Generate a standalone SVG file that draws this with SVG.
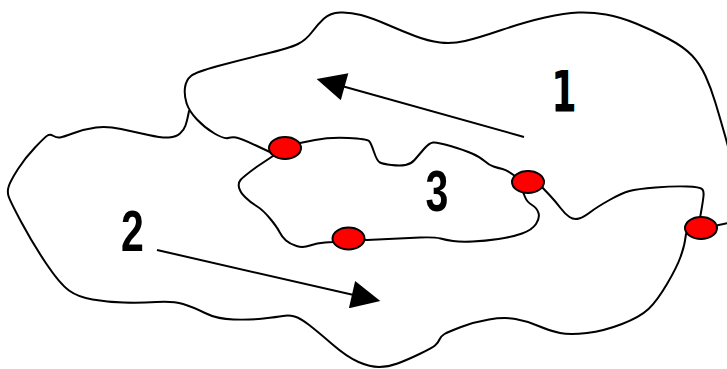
<svg xmlns="http://www.w3.org/2000/svg" width="727" height="369" viewBox="0 0 727 369">
  <style>
    .edge { fill: none; stroke: #000; stroke-width: 2; stroke-linejoin: round; stroke-linecap: round; }
    .arrow { fill: none; stroke: #000; stroke-width: 2; marker-end: url(#head); }
    .node { fill: #ff0000; stroke: #000; stroke-width: 2; }
    .label { font-family: "Liberation Sans", Arial, sans-serif; font-weight: bold; font-size: 57px; text-anchor: middle; fill: #000; }
    .label-footed { font-family: "DejaVu Sans", sans-serif; }
  </style>
  <defs>
    <marker id="head" markerUnits="userSpaceOnUse" markerWidth="30" markerHeight="28" viewBox="0 0 28 27" refX="18" refY="13.5" orient="auto">
      <path d="M0,0 L28,13.5 L0,27 Z" fill="#000"/>
    </marker>
  </defs>

  <g id="connectors">
    <!-- outer boundary, upper part -->
    <path class="edge" d="M272,153 L256,145.5 Q240,138 236,137.5 Q232,137 228,138 Q224,139 214.5,133.5 Q205,128 197,119.5 Q189,111 186.5,103 Q184,95 185,87.5 Q186,80 191,76 Q196,72 218,66 Q240,60 265,54 Q290,48 298,44 Q306,40 312,32 Q318,24 324,18.5 Q330,13 340,12.5 Q350,12 361,15 Q372,18 387,24.5 Q402,31 415,36 Q428,41 440,42.5 Q452,44 465,41 Q478,38 501.5,30 Q525,22 545,17.5 Q565,13 578.5,12.5 Q592,12 606,14.5 Q620,17 636,23.5 Q652,30 668,38.5 Q684,47 692,55.5 Q700,64 705.5,76 Q711,88 715.5,103 Q720,118 724,132 Q728,146 730,154"/>
    <!-- outer boundary, left and lower part -->
    <path class="edge" d="M189,111 L188,116 Q187,121 185.5,125.5 Q184,130 180,133.5 Q176,137 169,137.5 Q162,138 148.5,135 Q135,132 121,129 Q107,126 96,127.5 Q85,129 74,133 Q63,137 60,137.5 Q57,138 53.5,136 Q50,134 47.5,135.5 Q45,137 35,147.5 Q25,158 18,169 Q11,180 9,185.5 Q7,191 8.5,196 Q10,201 21.5,222.5 Q33,244 46.5,264 Q60,284 69,290.5 Q78,297 92.5,299.5 Q107,302 123.5,302.5 Q140,303 156.5,302 Q173,301 183,304 Q193,307 205,313 Q217,319 233.5,319.5 Q250,320 263.5,318.5 Q277,317 283,316 Q289,315 294.5,316.5 Q300,318 308.5,324.5 Q317,331 332,344 Q347,357 358.5,362 Q370,367 379,367 Q388,367 397.5,363.5 Q407,360 419.5,354 Q432,348 435,345.5 Q438,343 439.5,339.5 Q441,336 444.5,334 Q448,332 461,327 Q474,322 489,319.5 Q504,317 515.5,319 Q527,321 538.5,326 Q550,331 560,333 Q570,335 587,333 Q604,331 622,324 Q640,317 648.5,309 Q657,301 667,284 Q677,267 680.5,257 Q684,247 685,240.5 L686,234"/>
    <!-- dividing line between the two outer regions -->
    <path class="edge" d="M700,218 L701.5,209.5 Q703,201 703.5,196 Q704,191 702,189 Q700,187 687,186.5 Q674,186 655.5,187.5 Q637,189 629.5,191 Q622,193 609.5,200 Q597,207 590.5,212 Q584,217 579,218.5 Q574,220 569.5,217 Q565,214 560.5,208 Q556,202 549.5,195 L540,185"/>
    <path class="edge" d="M714,226 L728,223"/>
    <!-- inner loop -->
    <path class="edge" d="M286,146 L300,143 L315,140 Q330,137 348.5,138 Q367,139 369,141 Q371,143 374,152 Q377,161 380,162.5 Q383,164 391.5,165 Q400,166 405.5,165 Q411,164 414.5,160 Q418,156 423.5,149.5 Q429,143 433,142.5 Q437,142 450.5,146 Q464,150 472,153.5 Q480,157 484.5,161 Q489,165 493.5,166.5 Q498,168 502.5,169 Q507,170 515,176"/>
    <path class="edge" d="M526,185 L523,192 L525,197 Q527,202 532,205 Q537,208 538.5,213 Q540,218 536,224 Q532,230 522,233.5 Q512,237 498.5,239 Q485,241 472.5,241.5 Q460,242 453,241 Q446,240 440.5,238.5 Q435,237 420,237.5 L367,240 L350,239"/>
    <path class="edge" d="M348,239 L333,242 L325,242.5 Q317,243 310,245.5 Q303,248 296.5,246 Q290,244 286,240.5 Q282,237 279.5,232 Q277,227 270,218.5 Q263,210 256.5,206 Q250,202 245,197 Q240,192 239,187.5 Q238,183 240.5,180 Q243,177 256.5,167 L285,148"/>
    <!-- flow arrows -->
    <line class="arrow" x1="524" y1="137" x2="326.6" y2="81.7"/>
    <line class="arrow" x1="157" y1="250" x2="370.2" y2="298.8"/>
  </g>

  <g id="node-a"><ellipse class="node" cx="285" cy="148" rx="16" ry="11"/></g>
  <g id="node-b"><ellipse class="node" cx="528" cy="182" rx="16" ry="11"/></g>
  <g id="node-c"><ellipse class="node" cx="348.5" cy="238.5" rx="16" ry="11"/></g>
  <g id="node-d"><ellipse class="node" cx="701" cy="228" rx="16" ry="11"/></g>

  <g id="label-1"><text class="label label-footed" transform="translate(564,112) scale(0.64,1)">1</text></g>
  <g id="label-2"><text class="label" transform="translate(132.5,251) scale(0.72,1)">2</text></g>
  <g id="label-3"><text class="label" transform="translate(437,211) scale(0.72,1)">3</text></g>
</svg>
